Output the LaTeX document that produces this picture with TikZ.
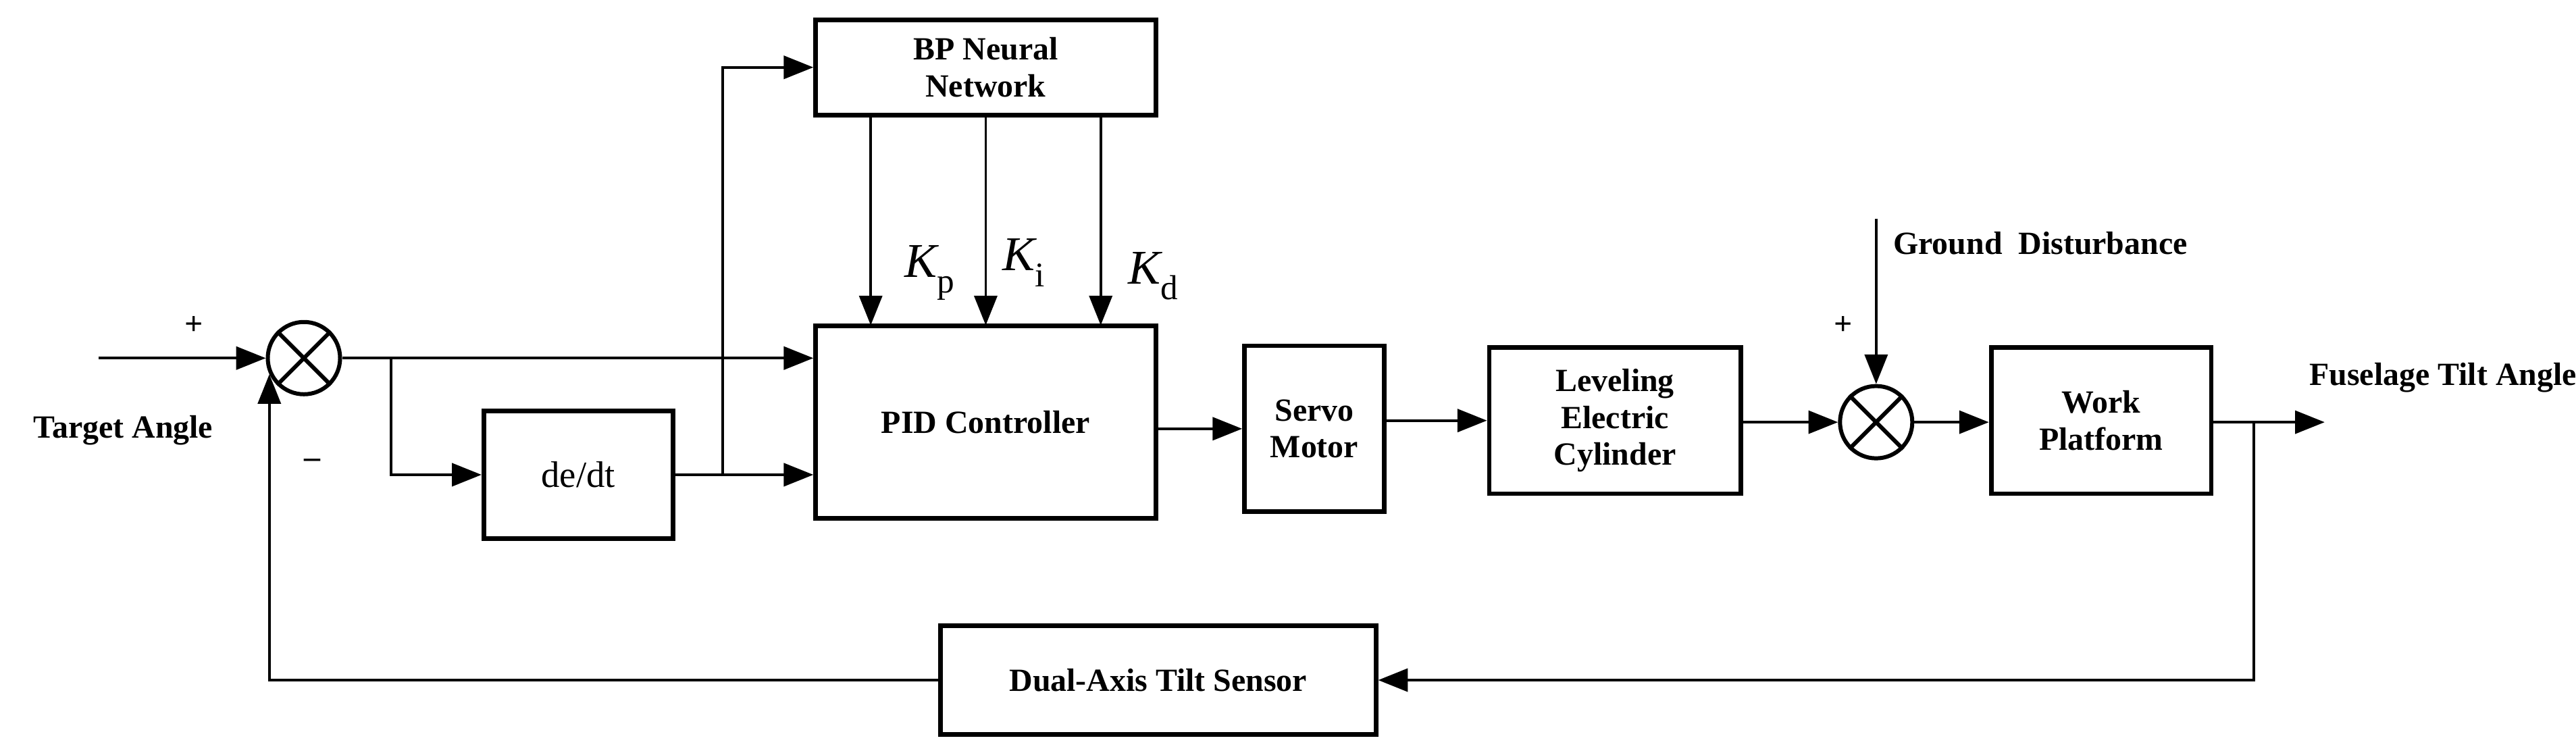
\documentclass[tikz,border=0pt]{standalone}
\usepackage{fontspec}
\setmainfont{Liberation Serif}
\usetikzlibrary{arrows.meta}
\newcommand{\Kx}[1]{{\itshape K}{\fontsize{30}{32}\selectfont\raisebox{-1.0ex}{#1}}}
\begin{document}
\begin{tikzpicture}[x=0.5mm,y=-0.5mm,
  box/.style={draw,line width=4pt,inner sep=0pt,font=\fontsize{28}{32}\selectfont\bfseries,align=center},
  sum/.style={draw,circle,line width=3.5pt,minimum size=22mm,inner sep=0pt},
  ln/.style={line width=2.2pt},
  ar/.style={ln,-{Triangle[length=9mm,width=7mm]}},
  lab/.style={font=\fontsize{28}{32}\selectfont\bfseries},
  kl/.style={font=\fontsize{42}{44}\selectfont}]
\useasboundingbox (0,0) rectangle (1568,457);
\node[sum] (s1) at (185,218) {};
\draw[line width=3.5pt] (s1.45)--(s1.225) (s1.135)--(s1.315);
\node[sum] (s2) at (1142,257) {};
\draw[line width=3.5pt] (s2.45)--(s2.225) (s2.135)--(s2.315);
\node[box,minimum width=115mm*0.5,minimum height=78mm*0.5] (dd) at (352,289) {\fontsize{32}{36}\selectfont\mdseries de/dt};
\node[box,minimum width=207mm*0.5,minimum height=58mm*0.5] (bp) at (600,41) {BP Neural\\Network};
\node[box,minimum width=207mm*0.5,minimum height=117mm*0.5] (pid) at (600,257) {PID Controller};
\node[box,minimum width=85mm*0.5,minimum height=101mm*0.5] (sv) at (800,261) {Servo\\Motor};
\node[box,minimum width=153mm*0.5,minimum height=89mm*0.5] (lv) at (983,256) {Leveling\\Electric\\Cylinder};
\node[box,minimum width=134mm*0.5,minimum height=89mm*0.5] (wp) at (1279,256) {Work\\Platform};
\node[box,minimum width=265mm*0.5,minimum height=66mm*0.5] (ds) at (705,414) {Dual-Axis Tilt Sensor};
\coordinate (in) at (60,218);
\coordinate (b1) at (238,218);
\coordinate (b2) at (440,290);
\coordinate (gd) at (1142,133);
\coordinate (fo) at (1415,257);
\coordinate (b3) at (1372,257);
\node[lab] at (75,262) {Target Angle};
\node[lab] at (118,198) {+};
\node[lab] at (190,282) {\textbf{--}};
\node[lab] at (1122,198) {+};
\node[lab,anchor=west] at (1150,148) {Ground\ \ Disturbance};
\node[lab] at (1487,230) {Fuselage Tilt Angle};
\draw[ar] (in) -- (s1.west);
\draw[ar] (s1.east) -- (pid.west |- s1);
\draw[ar] (b1) |- (dd.west);
\draw[ar] (dd.east) -- (pid.west |- dd);
\draw[ar] (b2) |- (bp.west);
\foreach \x in {530,600,670}{
  \draw[ar] (\x,70) -- (\x,198);
}
\node[kl] (kp) at (566,166) {\Kx{p}};
\node[kl] (ki) at (623,160) {\Kx{i}};
\node[kl] (kd) at (702,168) {\Kx{d}};
\draw[ar] (pid.east |- sv) -- (sv.west);
\draw[ar] (sv.east |- lv) -- (lv.west);
\draw[ar] (lv.east |- s2) -- (s2.west);
\draw[ar] (gd) -- (s2.north);
\draw[ar] (s2.east) -- (wp.west |- s2);
\draw[ar] (wp.east |- fo) -- (fo);
\draw[ar] (b3) |- (ds.east);
\draw[ar] (ds.west) -| (s1.205);
\end{tikzpicture}
\end{document}
